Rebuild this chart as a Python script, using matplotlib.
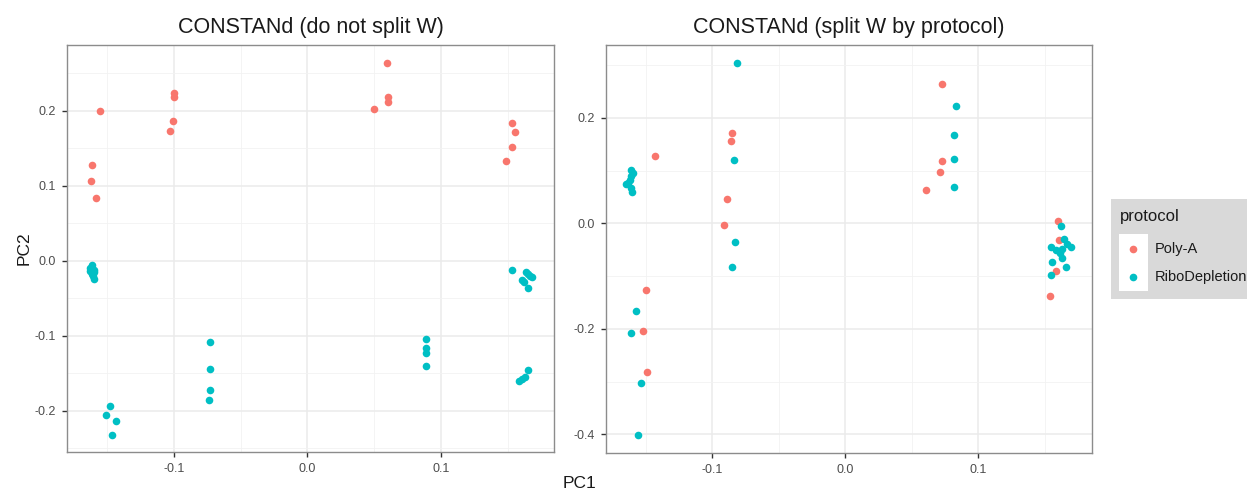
import matplotlib
matplotlib.use("Agg")
import matplotlib.pyplot as plt
from matplotlib.lines import Line2D
from matplotlib.patches import Rectangle
import numpy as np

plt.rcParams['font.family'] = ['Liberation Sans', 'DejaVu Sans']

# ---------------- data ----------------
titles = ["CONSTANd (do not split W)", "CONSTANd (split W by protocol)"]
protocols = ["Poly-A", "RiboDepletion"]
colors = {"Poly-A": "#F8766D", "RiboDepletion": "#00BFC4"}

# Left panel (do not split W)
left_polya_x = [-0.155, -0.161, -0.162, -0.158,
                -0.0998, -0.0998, -0.101, -0.103,
                0.0593, 0.0606, 0.0606, 0.0498,
                0.1534, 0.1557, 0.1534, 0.149]
left_polya_y = [0.200, 0.128, 0.106, 0.084,
                0.2236, 0.218, 0.186, 0.173,
                0.2636, 0.218, 0.2125, 0.2027,
                0.1844, 0.1724, 0.1516, 0.1338]
left_ribo_x = [-0.1615, -0.163, -0.160, -0.1595, -0.1625, -0.161, -0.1605, -0.1595,
               -0.148, -0.151, -0.1435, -0.146,
               -0.073, -0.073, -0.0728, -0.074,
               0.0888, 0.0888, 0.0888, 0.0888,
               0.1534, 0.1634, 0.1654, 0.168, 0.161, 0.1625, 0.165, 0.1665,
               0.165, 0.163, 0.1587, 0.1605]
left_ribo_y = [-0.005, -0.010, -0.012, -0.015, -0.013, -0.018, -0.020, -0.024,
               -0.193, -0.205, -0.213, -0.232,
               -0.108, -0.1445, -0.172, -0.185,
               -0.104, -0.1165, -0.123, -0.1396,
               -0.012, -0.015, -0.017, -0.022, -0.025, -0.028, -0.0364, -0.020,
               -0.146, -0.155, -0.160, -0.158]

# Right panel (split W by protocol)
right_polya_x = [-0.1429, -0.1499, -0.1521, -0.149,
                 -0.0852, -0.0860, -0.0885, -0.091,
                 0.0729, 0.0727, 0.0714, 0.0611,
                 0.1604, 0.1611, 0.159, 0.1539]
right_polya_y = [0.1276, -0.127, -0.2042, -0.282,
                 0.1718, 0.1566, 0.0466, -0.0038,
                 0.264, 0.118, 0.0967, 0.0637,
                 0.005, -0.0317, -0.0898, -0.137]
right_ribo_x = [-0.1611, -0.1595, -0.161, -0.163, -0.1615, -0.1645, -0.1611, -0.1604,
                -0.1569, -0.1609, -0.1534, -0.1554,
                -0.0814, -0.0835, -0.0827, -0.0852,
                0.0837, 0.0817, 0.0817, 0.0817,
                0.1622, 0.1649, 0.1549, 0.159, 0.163, 0.1667, 0.1697, 0.1615,
                0.1634, 0.1559, 0.1659, 0.1549]
right_ribo_y = [0.101, 0.096, 0.090, 0.077, 0.083, 0.0745, 0.066, 0.0588,
                -0.1669, -0.208, -0.3028, -0.4013,
                0.303, 0.1194, -0.0355, -0.0822,
                0.223, 0.1674, 0.1213, 0.0682,
                -0.005, -0.030, -0.0443, -0.0506, -0.049, -0.039, -0.0443, -0.056,
                -0.066, -0.074, -0.0834, -0.098]

panels = [
    {"polya": (left_polya_x, left_polya_y), "ribo": (left_ribo_x, left_ribo_y),
     "xlim": (-0.180, 0.1846), "ylim": (-0.2547, 0.288),
     "yticks": [-0.2, -0.1, 0.0, 0.1, 0.2], "yminor": [-0.25, -0.15, -0.05, 0.05, 0.15, 0.25]},
    {"polya": (right_polya_x, right_polya_y), "ribo": (right_ribo_x, right_ribo_y),
     "xlim": (-0.1797, 0.1857), "ylim": (-0.4355, 0.338),
     "yticks": [-0.4, -0.2, 0.0, 0.2], "yminor": [-0.3, -0.1, 0.1, 0.3]},
]
xticks = [-0.1, 0.0, 0.1]
xminor = [-0.15, -0.05, 0.05, 0.15]

W, H = 1257, 491
fig = plt.figure(figsize=(W / 100, H / 100), dpi=100)

def fx(px):
    return px / W

def fy(py):
    return 1 - py / H

boxes = [(67, 45, 554, 452), (606, 45, 1092, 453)]

for i, (p, (x0, y0, x1, y1)) in enumerate(zip(panels, boxes)):
    ax = fig.add_axes([fx(x0), fy(y1), fx(x1) - fx(x0), (y1 - y0) / H])
    ax.set_xlim(*p["xlim"])
    ax.set_ylim(*p["ylim"])
    ax.set_xticks(xticks)
    ax.set_xticklabels([f"{v:.1f}" for v in xticks])
    ax.set_xticks(xminor, minor=True)
    ax.set_yticks(p["yticks"])
    ax.set_yticklabels([f"{v:.1f}" for v in p["yticks"]])
    ax.set_yticks(p["yminor"], minor=True)
    ax.grid(which="major", color="#EBEBEB", linewidth=1.1, zorder=0)
    ax.grid(which="minor", color="#F2F2F2", linewidth=0.6, zorder=0)
    ax.set_axisbelow(True)
    ax.tick_params(which="major", length=3.5, width=1.0, color="#333333",
                   labelsize=9, labelcolor="#4D4D4D", pad=4.5)
    ax.tick_params(which="minor", length=0)
    for s in ax.spines.values():
        s.set_color("#8C8C8C")
        s.set_linewidth(1.0)
    for key, name in (("polya", "Poly-A"), ("ribo", "RiboDepletion")):
        xs, ys = p[key]
        ax.scatter(xs, ys, s=30, color=colors[name], linewidths=0, zorder=3)
    ax.set_title(titles[i], fontsize=15.5, color="#1A1A1A", pad=9)

# shared axis labels
fig.text(fx(579.5), fy(483), "PC1", fontsize=12.5, ha="center", va="center", color="#1A1A1A")
fig.text(fx(24), fy(248.5), "PC2", fontsize=12.5, ha="center", va="center",
         rotation=90, color="#1A1A1A")

# legend (manual layout)
fig.patches.append(Rectangle((fx(1111), fy(299)), fx(1247) - fx(1111), (299 - 199) / H,
                             transform=fig.transFigure, facecolor="#D9D9D9",
                             edgecolor="none", zorder=1))
fig.patches.append(Rectangle((fx(1119), fy(291)), fx(1148) - fx(1119), (291 - 234) / H,
                             transform=fig.transFigure, facecolor="white",
                             edgecolor="none", zorder=2))
fig.text(fx(1120), fy(217), "protocol", fontsize=12, ha="left", va="center", color="#1A1A1A")
key_y = [249, 277]
for name, ky in zip(protocols, key_y):
    fig.add_artist(Line2D([fx(1133)], [fy(ky)], marker="o", markersize=5.5,
                          markerfacecolor=colors[name], markeredgewidth=0,
                          linestyle="none", transform=fig.transFigure, zorder=3))
    fig.text(fx(1155), fy(ky), name, fontsize=10.5, ha="left", va="center", color="#1A1A1A")

fig.savefig("out.png", dpi=100)
